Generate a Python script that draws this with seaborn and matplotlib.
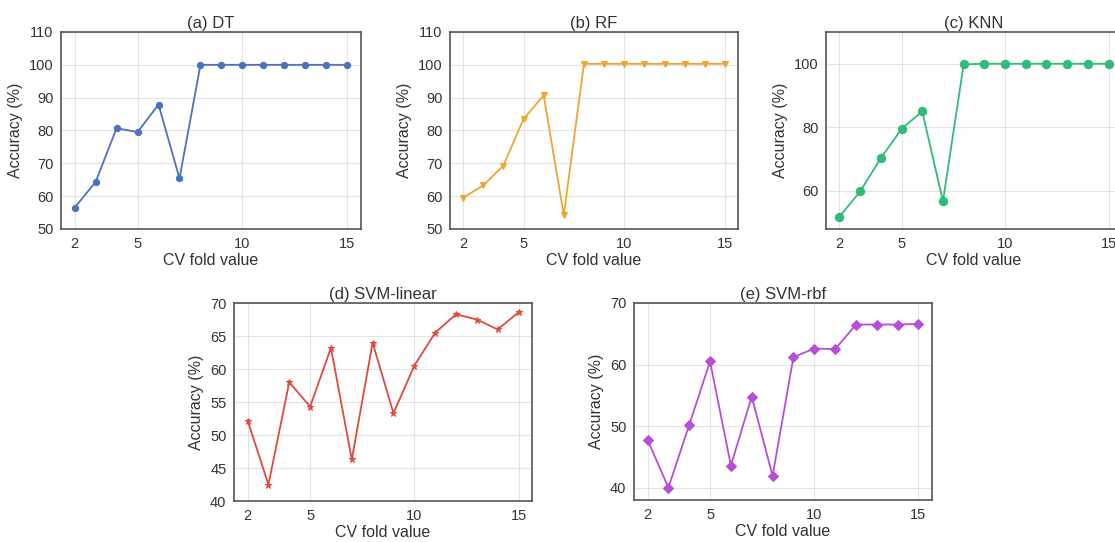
import matplotlib
matplotlib.use('Agg')
import matplotlib.pyplot as plt
import seaborn as sns

# CV fold values (shared x axis)
folds = list(range(2, 16))

# Accuracy (%) per model
acc_dt = [56.5, 64.3, 80.7, 79.5, 87.9, 65.4, 100, 100, 100, 100, 100, 100, 100, 100]
acc_rf = [59.5, 63.3, 69.3, 83.5, 90.7, 54.2, 100.3, 100.3, 100.3, 100.3, 100.3, 100.3, 100.3, 100.3]
acc_knn = [51.9, 59.8, 70.3, 79.5, 85.0, 56.7, 99.8, 100, 100, 100, 100, 100, 100, 100]
acc_svm_lin = [52.2, 42.5, 58.0, 54.3, 63.2, 46.3, 64.0, 53.3, 60.5, 65.5, 68.3, 67.5, 66.0, 68.6]
acc_svm_rbf = [47.8, 40.0, 50.2, 60.5, 43.6, 54.8, 41.9, 61.2, 62.6, 62.5, 66.5, 66.5, 66.5, 66.6]

titles = ['(a) DT', '(b) RF', '(c) KNN', '(d) SVM-linear', '(e) SVM-rbf']
series = [acc_dt, acc_rf, acc_knn, acc_svm_lin, acc_svm_rbf]
colors = ['#4a72bf', '#efa630', '#2dbd78', '#df4a3c', '#b64fd6']
markers = ['o', 'v', 'o', '*', 'D']
msizes = [4.5, 5, 6, 5, 5]
ylims = [(50, 110), (50, 110), (48, 110), (40, 70), (38, 70)]
yticks = [range(50, 111, 10), range(50, 111, 10), [60, 80, 100],
          range(40, 71, 5), [40, 50, 60, 70]]

sns.set_style('whitegrid', {'axes.edgecolor': '#555555', 'grid.color': '#e3e3e3'})
plt.rcParams['font.family'] = ['Liberation Sans', 'DejaVu Sans']

fig = plt.figure(figsize=(11.15, 5.42), dpi=100)
# axes rectangles in figure fraction (left, bottom, width, height)
rects = [
    (0.0547, 0.5775, 0.2690, 0.3635),
    (0.4036, 0.5775, 0.2583, 0.3635),
    (0.7408, 0.5775, 0.2655, 0.3635),
    (0.2099, 0.0756, 0.2673, 0.3653),
    (0.5686, 0.0775, 0.2673, 0.3635),
]

for rect, title, y, c, m, ms, yl, yt in zip(rects, titles, series, colors,
                                          markers, msizes, ylims, yticks):
    ax = fig.add_axes(rect)
    sns.lineplot(x=folds, y=y, ax=ax, color=c, marker=m, markersize=ms,
                 markeredgecolor=c, linewidth=1.3)
    ax.set_xlim(1.35, 15.65)
    ax.set_ylim(*yl)
    ax.set_xticks([2, 5, 10, 15])
    ax.set_yticks(list(yt))
    ax.set_title(title, fontsize=12, color='#333333', pad=3)
    ax.set_xlabel('CV fold value', fontsize=11.5, color='#333333', labelpad=2)
    ax.set_ylabel('Accuracy (%)', fontsize=11.5, color='#333333', labelpad=4)
    ax.tick_params(labelsize=10.5, colors='#333333', pad=2)
    for s in ax.spines.values():
        s.set_linewidth(1.2)

fig.savefig('out.png', dpi=100)
